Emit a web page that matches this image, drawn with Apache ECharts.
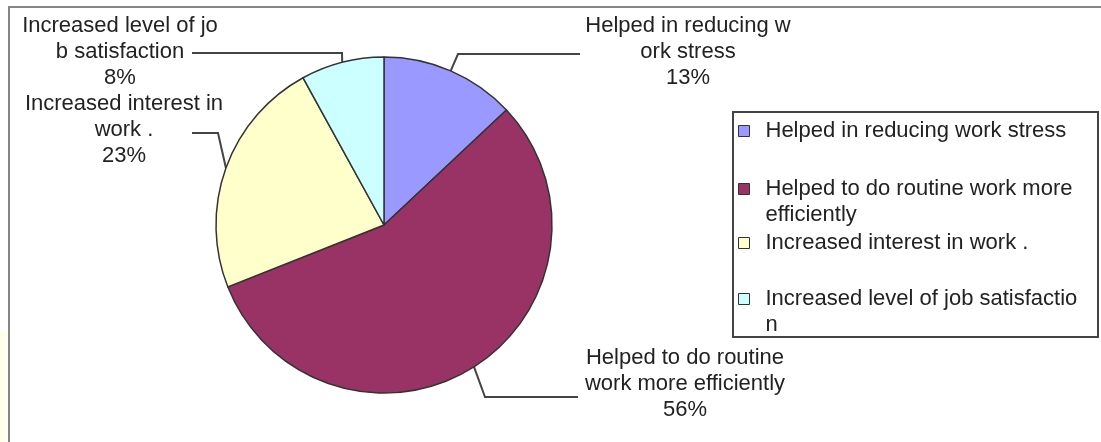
<!DOCTYPE html>
<html>
<head>
<meta charset="utf-8">
<script src="https://cdn.jsdelivr.net/npm/echarts@6/dist/echarts.min.js"></script>
<style>
  html, body { margin: 0; padding: 0; background: #ffffff; }
  #chart { width: 1101px; height: 442px; }
</style>
</head>
<body>
<div id="chart"></div>
<script>
// Survey answers: how the programme helped respondents
const categories = [
  'Helped in reducing work stress',
  'Helped to do routine work more efficiently',
  'Increased interest in work .',
  'Increased level of job satisfaction'
];
const shares = [13, 56, 23, 8];

// wrapped text used beside the slices and in the key
const sliceLabels = [
  'Helped in reducing w\nork stress',
  'Helped to do routine\nwork more efficiently',
  'Increased interest in\nwork .',
  'Increased level of jo\nb satisfaction'
];
const legendLabels = [
  'Helped in reducing work stress',
  'Helped to do routine work more\nefficiently',
  'Increased interest in work .',
  'Increased level of job satisfactio\nn'
];

// styling / placement
const sliceColors = ['#9999FF', '#993366', '#FFFFCC', '#CCFFFF'];
const FONT = '"Liberation Sans", Arial, sans-serif';
const LINE_H = 26;
const labelSpots = [
  { x: 688, y: 52,  elbow: [458, 54],  end: [580, 54] },
  { x: 685, y: 384, elbow: [485, 397], end: [578, 397] },
  { x: 124, y: 130, elbow: [218, 133], end: [192, 133] },
  { x: 120, y: 52,  elbow: [342, 53],  end: [192, 53] }
];
const legendRows = [130, 188, 242, 298];

// key swatch that sits beside the first line of a two-line entry:
// an 11x11 square at the top of a box one text line taller
const tallSwatch = 'path://M0,0h11v11h-11z M0,' + (11 + LINE_H) + 'h0.01';

const chart = echarts.init(document.getElementById('chart'), null, { renderer: 'canvas' });

const option = {
  backgroundColor: '#ffffff',
  animation: false,
  color: sliceColors,
  graphic: [
    // faint strip at the far left
    { type: 'rect', shape: { x: 0, y: 330, width: 7, height: 112 }, style: { fill: '#FFFFEC' }, silent: true },
    // outer frame (top and left edges)
    { type: 'polyline', shape: { points: [[9, 442], [9, 7], [1101, 7]] }, style: { stroke: '#858585', lineWidth: 2, fill: null }, silent: true },
    // key box
    { type: 'rect', shape: { x: 733, y: 112, width: 365, height: 225 }, style: { stroke: '#444', lineWidth: 2, fill: null }, silent: true }
  ],
  legend: categories.map((name, i) => {
    const twoLines = legendLabels[i].indexOf('\n') >= 0;
    return {
      data: [name],
      orient: 'vertical',
      left: 738,
      top: legendRows[i] - 12,
      padding: 0,
      icon: twoLines ? tallSwatch : 'rect',
      itemWidth: 11,
      itemHeight: twoLines ? 11 + LINE_H : 11,
      selectedMode: false,
      itemStyle: { borderColor: '#333', borderWidth: 1 },
      formatter: () => legendLabels[i],
      textStyle: {
        fontFamily: FONT,
        fontSize: 22,
        lineHeight: LINE_H,
        color: '#222',
        padding: [0, 0, 0, 11]
      }
    };
  }),
  series: [{
    type: 'pie',
    center: [384, 225],
    radius: 168,
    startAngle: 90,
    clockwise: true,
    avoidLabelOverlap: false,
    emphasis: { disabled: true },
    itemStyle: { borderColor: '#333', borderWidth: 1.5 },
    data: categories.map((name, i) => ({ name, value: shares[i] })),
    label: {
      show: true,
      position: 'outside',
      fontFamily: FONT,
      fontSize: 22,
      lineHeight: LINE_H,
      color: '#222',
      align: 'center',
      formatter: (p) => sliceLabels[p.dataIndex] + '\n' + Math.round(p.percent) + '%'
    },
    labelLine: {
      show: true,
      length: 10,
      length2: 10,
      lineStyle: { color: '#444', width: 2 }
    },
    labelLayout: (p) => {
      const s = labelSpots[p.dataIndex];
      const edge = p.labelLinePoints ? p.labelLinePoints[0] : s.elbow;
      return {
        x: s.x,
        y: s.y,
        align: 'center',
        verticalAlign: 'middle',
        labelLinePoints: [edge, s.elbow, s.end]
      };
    }
  }]
};

chart.setOption(option);
</script>
</body>
</html>
